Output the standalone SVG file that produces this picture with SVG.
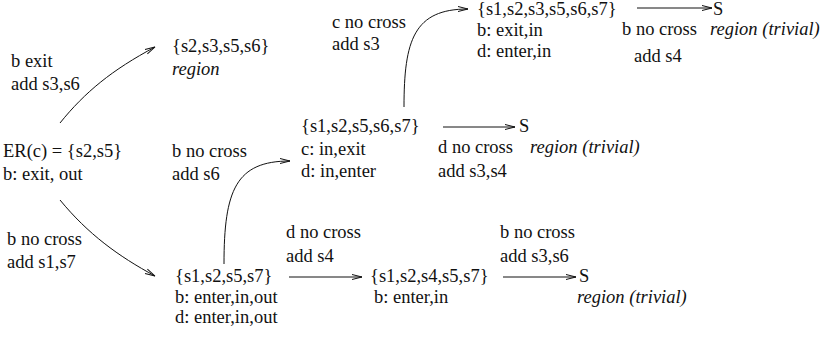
<svg xmlns="http://www.w3.org/2000/svg" width="827" height="338" viewBox="0 0 827 338">
<style>
text { font-family: "Liberation Serif", "Times New Roman", serif; font-size: 18.5px; fill: #111; }
.it { font-style: italic; }
.edge { fill: none; stroke: #111; stroke-width: 1; }
</style>
<defs>
<marker id="arr" markerUnits="userSpaceOnUse" markerWidth="12" markerHeight="8" refX="10" refY="3" orient="auto" overflow="visible">
<path d="M0,0.5 L10,3 L0,5.5" fill="none" stroke="#111" stroke-width="1"/>
</marker>
</defs>
<rect width="827" height="338" fill="#fff"/>
<g id="connectors">
<path class="edge" d="M60,123 C85,92 112,70 155,47" marker-end="url(#arr)"/>
<path class="edge" d="M60,200 C88,234 118,256 155,276" marker-end="url(#arr)"/>
<path class="edge" d="M224,264 C224,190 236,161 290,161" marker-end="url(#arr)"/>
<path class="edge" d="M404,107 C404,40 414,9 468,9" marker-end="url(#arr)"/>
<path class="edge" d="M443,127 L515,127" marker-end="url(#arr)"/>
<path class="edge" d="M637,8 L712,8" marker-end="url(#arr)"/>
<path class="edge" d="M289,277 L362,277" marker-end="url(#arr)"/>
<path class="edge" d="M503,277 L576,277" marker-end="url(#arr)"/>
</g>
<g id="edge-labels">
<text x="11" y="67">b exit</text>
<text x="11" y="90">add s3,s6</text>
<text x="172" y="157">b no cross</text>
<text x="172" y="180">add s6</text>
<text x="332" y="28">c no cross</text>
<text x="332" y="50">add s3</text>
<text x="622" y="35">b no cross</text>
<text x="634" y="62">add s4</text>
<text x="438" y="153">d no cross</text>
<text x="438" y="177">add s3,s4</text>
<text x="7" y="245">b no cross</text>
<text x="7" y="268">add s1,s7</text>
<text x="286" y="238">d no cross</text>
<text x="286" y="262">add s4</text>
<text x="500" y="238">b no cross</text>
<text x="500" y="262">add s3,s6</text>
</g>
<g id="n-er">
<text x="3" y="157">ER(c) = {s2,s5}</text>
<text x="3" y="180">b: exit, out</text>
</g>
<g id="n-s2356">
<text x="172" y="52">{s2,s3,s5,s6}</text>
<text x="172" y="75" class="it">region</text>
</g>
<g id="n-s123567">
<text x="477" y="15">{s1,s2,s3,s5,s6,s7}</text>
<text x="477" y="36">b: exit,in</text>
<text x="477" y="57">d: enter,in</text>
</g>
<g id="n-S1">
<text x="713" y="15">S</text>
<text x="710" y="35" class="it">region (trivial)</text>
</g>
<g id="n-s12567">
<text x="301" y="132">{s1,s2,s5,s6,s7}</text>
<text x="301" y="155">c: in,exit</text>
<text x="301" y="177">d: in,enter</text>
</g>
<g id="n-S2">
<text x="519" y="132">S</text>
<text x="530" y="153" class="it">region (trivial)</text>
</g>
<g id="n-s1257">
<text x="175" y="282">{s1,s2,s5,s7}</text>
<text x="175" y="303">b: enter,in,out</text>
<text x="175" y="323">d: enter,in,out</text>
</g>
<g id="n-s12457">
<text x="370" y="282">{s1,s2,s4,s5,s7}</text>
<text x="374" y="303">b: enter,in</text>
</g>
<g id="n-S3">
<text x="579" y="282">S</text>
<text x="577" y="303" class="it">region (trivial)</text>
</g>
</svg>
